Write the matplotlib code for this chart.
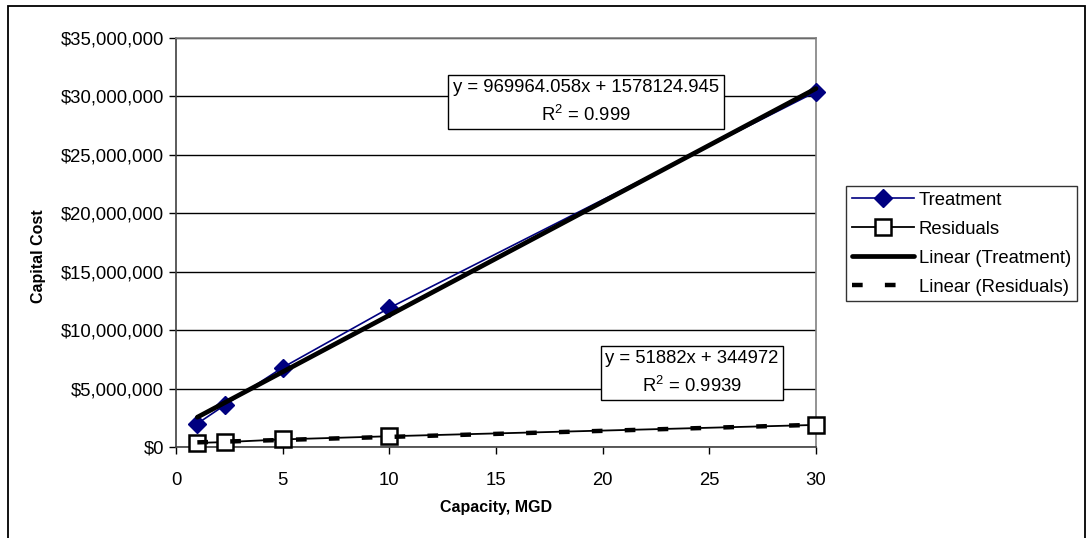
import matplotlib.pyplot as plt
from matplotlib.patches import Rectangle
from matplotlib.ticker import FuncFormatter, MultipleLocator
import numpy as np

plt.rcParams['font.family'] = ['Liberation Sans', 'DejaVu Sans']
plt.rcParams['mathtext.fontset'] = 'custom'
plt.rcParams['mathtext.rm'] = 'Liberation Sans'
plt.rcParams['mathtext.it'] = 'Liberation Sans'

# capacity (MGD) and capital cost ($)
capacity = [1, 2.3, 5, 10, 30]
treatment_cost = [2000000, 3600000, 6800000, 11900000, 30400000]
residuals_cost = [350000, 420000, 650000, 920000, 1890000]

# linear trendline coefficients
treat_slope, treat_icpt, treat_r2 = 969964.058, 1578124.945, 0.999
resid_slope, resid_icpt, resid_r2 = 51882, 344972, 0.9939

W, H = 1086, 538
fig = plt.figure(figsize=(W / 100, H / 100), dpi=100)
ax = fig.add_axes([176 / W, 1 - 447 / H, 640 / W, 409 / H])

x = np.array(capacity)
ax.plot(x, treatment_cost, color='#000080', lw=1.2, marker='D', ms=9,
        mfc='#000080', mec='#000080', label='Treatment', zorder=3, clip_on=False)
ax.plot(x, residuals_cost, color='black', lw=1.3, marker='s', ms=12,
        mfc='white', mec='black', mew=1.8, label='Residuals', zorder=3, clip_on=False)

xt = np.array([x.min(), x.max()])
ax.plot(xt, treat_slope * xt + treat_icpt, color='black', lw=3.4,
        solid_capstyle='round', label='Linear (Treatment)', zorder=4, clip_on=False)
ax.plot(xt, resid_slope * xt + resid_icpt, color='black', lw=3.2,
        dashes=(2.4, 5.0), dash_capstyle='butt', label='Linear (Residuals)', zorder=4)

ax.set_xlim(0, 30)
ax.set_ylim(0, 35000000)
ax.xaxis.set_major_locator(MultipleLocator(5))
ax.yaxis.set_major_locator(MultipleLocator(5000000))
ax.yaxis.set_major_formatter(FuncFormatter(lambda v, p: '${:,.0f}'.format(v)))
ax.grid(axis='y', color='black', lw=1.0, zorder=1)
ax.set_axisbelow(True)
ax.tick_params(direction='out', length=5, width=1, labelsize=13.3)
ax.tick_params(axis='x', pad=13)
ax.tick_params(axis='y', pad=3.5)

for side in ['top', 'right']:
    ax.spines[side].set_color('#808080')
    ax.spines[side].set_linewidth(1.2)
for side in ['left', 'bottom']:
    ax.spines[side].set_color('#404040')
    ax.spines[side].set_linewidth(1.2)

ax.set_xlabel('Capacity, MGD', fontsize=11.5, fontweight='bold', labelpad=8)
ax.set_ylabel('Capital Cost', fontsize=11.5, fontweight='bold')
ax.yaxis.set_label_coords(-0.203, 0.467)

# trendline equation boxes
box = dict(boxstyle='square,pad=0.25', fc='white', ec='black', lw=1)
fig.text(586 / W, 1 - 102 / H,
         'y = {:.3f}x + {:.3f}\nR$^2$ = {}'.format(treat_slope, treat_icpt, treat_r2),
         ha='center', va='center', fontsize=13.3, linespacing=1.5, bbox=box, zorder=6)
fig.text(692 / W, 1 - 373 / H,
         'y = {}x + {}\nR$^2$ = {}'.format(resid_slope, resid_icpt, resid_r2),
         ha='center', va='center', fontsize=13.3, linespacing=1.5, bbox=box, zorder=6)

leg = ax.legend(loc='upper left', bbox_to_anchor=(846 / W, 1 - 186 / H),
                bbox_transform=fig.transFigure, borderaxespad=0, fontsize=13.3,
                fancybox=False, frameon=True, handlelength=3.4, handletextpad=0.25,
                labelspacing=0.65, borderpad=0.3)
leg.get_frame().set_edgecolor('black')
leg.get_frame().set_linewidth(1)

# chart border
fig.add_artist(Rectangle((8 / W, -0.05), (1085 - 8) / W, 1.05 - 6 / H,
                         transform=fig.transFigure, fill=False, ec='black', lw=1.3))

fig.savefig('out.png', dpi=100)
